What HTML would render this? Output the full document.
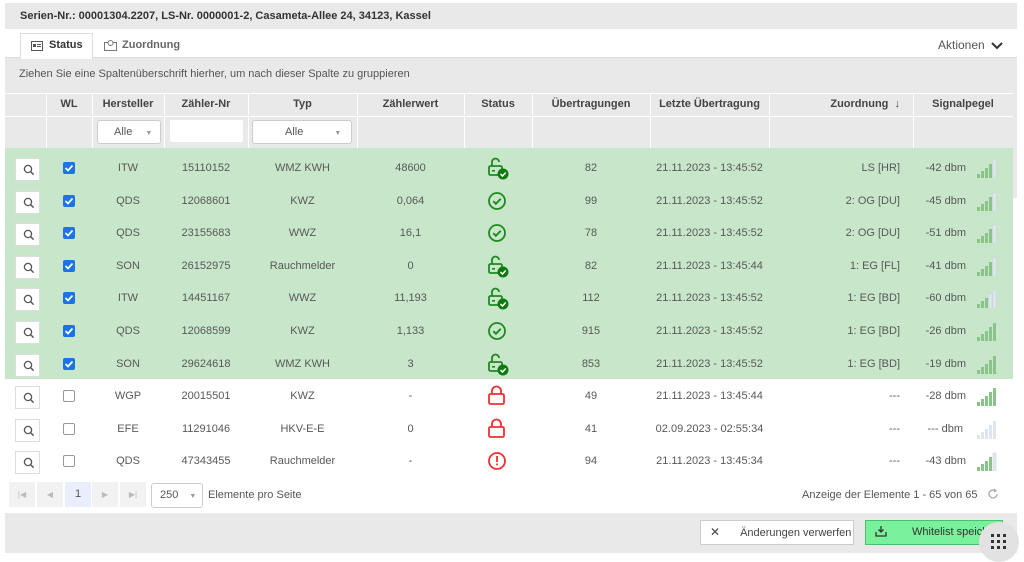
<!DOCTYPE html>
<html><head><meta charset="utf-8"><style>
*{box-sizing:border-box;margin:0;padding:0}
body{width:1024px;height:557px;background:#fff;font-family:"Liberation Sans",sans-serif;font-size:11px;color:#555;position:relative;overflow:hidden}
.a{position:absolute}
.hdr{font-weight:bold;color:#444}
.row{position:absolute;left:5px;width:1008px;height:33px}
.row .c{position:absolute;top:2px;height:33px;line-height:33px;text-align:center;white-space:nowrap;color:#585858}
.mag{position:absolute;left:10px;top:8px;width:25px;height:23px;background:#fff;border:1px solid #ddd}
.cb{position:absolute;left:58px;top:12px;width:12px;height:12px;border-radius:2px}
.on{background:#1a73e8}
.off{border:1px solid #999;background:#fff}
.ico{position:absolute;left:482px;top:7px}
.bars{position:absolute;left:972px;top:9px}
.vl{position:absolute;top:93px;height:55px;width:1px;background:#fff}
.pb{position:absolute;top:482px;width:26px;height:25px;background:#f2f2f2;color:#bbb;font-size:8px;text-align:center;line-height:25px}
</style></head><body>
<div class="a" style="left:5px;top:3px;width:1012px;height:550px;background:#e9e9e9"></div>
<div class="a hdr" style="left:20px;top:10px;font-size:11px;color:#333">Serien-Nr.: 00001304.2207, LS-Nr. 0000001-2, Casameta-Allee 24, 34123, Kassel</div>
<div class="a" style="left:5px;top:29px;width:1012px;height:29px;background:#fff;border-bottom:1px solid #ddd"></div>
<div class="a" style="left:20px;top:33px;width:73px;height:26px;background:#fff;border:1px solid #ddd;border-bottom:none"></div>
<svg class="a" style="left:31px;top:41px" width="12" height="10"><rect x="0.5" y="0.5" width="11" height="9" fill="none" stroke="#555"/><rect x="2" y="3" width="3" height="3" fill="#555"/><rect x="6" y="3" width="4" height="1" fill="#555"/><rect x="6" y="5" width="4" height="1" fill="#555"/></svg>
<div class="a hdr" style="left:49px;top:39px;font-size:11px;color:#333">Status</div>
<svg class="a" style="left:104px;top:40px" width="13" height="11"><rect x="0.5" y="2.5" width="12" height="8" fill="none" stroke="#777"/><circle cx="6.5" cy="3" r="2.5" fill="#fff" stroke="#777"/></svg>
<div class="a hdr" style="left:122px;top:39px;color:#666">Zuordnung</div>
<div class="a" style="left:938px;top:38px;font-size:12px;color:#555">Aktionen</div>
<svg class="a" style="left:991px;top:42px" width="12" height="8"><path d="M1 1l5 5 5-5" stroke="#333" stroke-width="2" fill="none"/></svg>
<div class="a" style="left:19px;top:68px;color:#555;font-size:11px">Ziehen Sie eine Spaltenüberschrift hierher, um nach dieser Spalte zu gruppieren</div>
<div class="a" style="left:5px;top:93px;width:1008px;height:1px;background:#fff"></div>
<div class="a" style="left:5px;top:116px;width:1008px;height:1px;background:#fff"></div>
<div class="vl" style="left:46px"></div><div class="vl" style="left:92px"></div><div class="vl" style="left:164px"></div><div class="vl" style="left:248px"></div><div class="vl" style="left:357px"></div><div class="vl" style="left:464px"></div><div class="vl" style="left:532px"></div><div class="vl" style="left:650px"></div><div class="vl" style="left:769px"></div><div class="vl" style="left:913px"></div>
<div class="a hdr" style="top:98px;left:46px;width:46px;text-align:center">WL</div>
<div class="a hdr" style="top:98px;left:92px;width:72px;text-align:center">Hersteller</div>
<div class="a hdr" style="top:98px;left:164px;width:84px;text-align:center">Zähler-Nr</div>
<div class="a hdr" style="top:98px;left:248px;width:109px;text-align:center">Typ</div>
<div class="a hdr" style="top:98px;left:357px;width:107px;text-align:center">Zählerwert</div>
<div class="a hdr" style="top:98px;left:464px;width:68px;text-align:center">Status</div>
<div class="a hdr" style="top:98px;left:532px;width:118px;text-align:center">Übertragungen</div>
<div class="a hdr" style="top:98px;left:650px;width:119px;text-align:center">Letzte Übertragung</div>
<div class="a hdr" style="top:98px;left:769px;width:131px;text-align:right">Zuordnung &nbsp;↓</div>
<div class="a hdr" style="top:98px;left:913px;width:100px;text-align:center">Signalpegel</div>
<div class="a" style="left:97px;top:120px;width:64px;height:24px;background:#fff;border:1px solid #ccc;border-radius:3px;line-height:22px;padding-left:16px">Alle <span style="font-size:7px;color:#999;margin-left:10px">▼</span></div>
<div class="a" style="left:170px;top:120px;width:73px;height:22px;background:#fff;border-radius:2px"></div>
<div class="a" style="left:252px;top:120px;width:100px;height:24px;background:#fff;border:1px solid #ccc;border-radius:3px;line-height:22px;padding-left:32px">Alle <span style="font-size:7px;color:#999;margin-left:28px">▼</span></div>
<div class="a" style="left:5px;top:148px;width:1008px;height:325px;background:#fff"></div>
<div class="a" style="left:5px;top:148px;width:1008px;height:231px;background:#c8e6c9"></div>
<div class="a" style="left:1013px;top:148px;width:4px;height:50px;background:#e9e9e9"></div>
<div class="a" style="left:1013px;top:198px;width:4px;height:315px;background:#fff"></div>
<div class="a" style="left:5px;top:473px;width:1012px;height:40px;background:#fff"></div>

<svg width="0" height="0" style="position:absolute"><defs>
<g id="mg"><circle cx="5" cy="5" r="3.6" fill="none" stroke="#555" stroke-width="1.3"/><path d="M7.6 7.6l3 3" stroke="#555" stroke-width="1.5"/></g>
<g id="ulk"><path d="M5 9V5a3.5 3.5 0 0 1 7 0" fill="none" stroke="#1e8a1e" stroke-width="1.8"/><rect x="2" y="9" width="13" height="9" rx="1.5" fill="none" stroke="#1e8a1e" stroke-width="1.8"/><rect x="5" y="13" width="3" height="1.6" fill="#1e8a1e"/><circle cx="16" cy="17" r="5.5" fill="#0f7a0f"/><path d="M13.5 17l2 2 3.2-3.5" stroke="#fff" stroke-width="1.5" fill="none"/></g>
<g id="ok"><circle cx="10" cy="11" r="8" fill="none" stroke="#1e8a1e" stroke-width="1.8"/><path d="M6.3 11.2l2.6 2.6 4.8-5" stroke="#1e8a1e" stroke-width="1.9" fill="none"/></g>
<g id="lk"><path d="M5 9V6a4.5 4.5 0 0 1 9 0v3" fill="none" stroke="#f03030" stroke-width="1.8"/><rect x="2" y="9" width="15" height="10" rx="1.5" fill="none" stroke="#f03030" stroke-width="1.8"/></g>
<g id="ex"><circle cx="10" cy="11" r="8" fill="none" stroke="#f03030" stroke-width="1.8"/><rect x="9.1" y="6" width="1.8" height="6" fill="#f03030"/><rect x="9.1" y="13.5" width="1.8" height="1.8" fill="#f03030"/></g>
</defs></svg>

<div class="row" style="top:150px">
<div class="mag"><svg style="margin:5px 0 0 7px" width="12" height="12"><use href="#mg"/></svg></div><div class="cb on"><svg width="12" height="12"><path d="M2.5 6l2.5 2.5 4.5-5" stroke="#fff" stroke-width="1.8" fill="none"/></svg></div>
<div class="c" style="left:87px;width:72px">ITW</div><div class="c" style="left:159px;width:84px">15110152</div><div class="c" style="left:243px;width:109px">WMZ KWH</div><div class="c" style="left:352px;width:107px">48600</div>
<svg class="ico" width="24" height="24"><use href="#ulk"/></svg>
<div class="c" style="left:527px;width:118px">82</div><div class="c" style="left:645px;width:119px">21.11.2023 - 13:45:52</div><div class="c" style="left:764px;width:131px;text-align:right">LS [HR]</div><div class="c" style="left:908px;width:53px;text-align:right">-42 dbm</div>
<svg class="bars" width="20" height="19"><rect x="0" y="15" width="3" height="4" fill="#8bc48b"/><rect x="4" y="12" width="3" height="7" fill="#8bc48b"/><rect x="8" y="9" width="3" height="10" fill="#8bc48b"/><rect x="12" y="5" width="3" height="14" fill="#8bc48b"/><rect x="16" y="1" width="3" height="18" fill="#e3e8f0" stroke="#c9d2dd" stroke-width=".6"/></svg></div>

<div class="row" style="top:182.6px">
<div class="mag"><svg style="margin:5px 0 0 7px" width="12" height="12"><use href="#mg"/></svg></div><div class="cb on"><svg width="12" height="12"><path d="M2.5 6l2.5 2.5 4.5-5" stroke="#fff" stroke-width="1.8" fill="none"/></svg></div>
<div class="c" style="left:87px;width:72px">QDS</div><div class="c" style="left:159px;width:84px">12068601</div><div class="c" style="left:243px;width:109px">KWZ</div><div class="c" style="left:352px;width:107px">0,064</div>
<svg class="ico" width="24" height="24"><use href="#ok"/></svg>
<div class="c" style="left:527px;width:118px">99</div><div class="c" style="left:645px;width:119px">21.11.2023 - 13:45:52</div><div class="c" style="left:764px;width:131px;text-align:right">2: OG [DU]</div><div class="c" style="left:908px;width:53px;text-align:right">-45 dbm</div>
<svg class="bars" width="20" height="19"><rect x="0" y="15" width="3" height="4" fill="#8bc48b"/><rect x="4" y="12" width="3" height="7" fill="#8bc48b"/><rect x="8" y="9" width="3" height="10" fill="#8bc48b"/><rect x="12" y="5" width="3" height="14" fill="#8bc48b"/><rect x="16" y="1" width="3" height="18" fill="#e3e8f0" stroke="#c9d2dd" stroke-width=".6"/></svg></div>

<div class="row" style="top:215.2px">
<div class="mag"><svg style="margin:5px 0 0 7px" width="12" height="12"><use href="#mg"/></svg></div><div class="cb on"><svg width="12" height="12"><path d="M2.5 6l2.5 2.5 4.5-5" stroke="#fff" stroke-width="1.8" fill="none"/></svg></div>
<div class="c" style="left:87px;width:72px">QDS</div><div class="c" style="left:159px;width:84px">23155683</div><div class="c" style="left:243px;width:109px">WWZ</div><div class="c" style="left:352px;width:107px">16,1</div>
<svg class="ico" width="24" height="24"><use href="#ok"/></svg>
<div class="c" style="left:527px;width:118px">78</div><div class="c" style="left:645px;width:119px">21.11.2023 - 13:45:52</div><div class="c" style="left:764px;width:131px;text-align:right">2: OG [DU]</div><div class="c" style="left:908px;width:53px;text-align:right">-51 dbm</div>
<svg class="bars" width="20" height="19"><rect x="0" y="15" width="3" height="4" fill="#8bc48b"/><rect x="4" y="12" width="3" height="7" fill="#8bc48b"/><rect x="8" y="9" width="3" height="10" fill="#8bc48b"/><rect x="12" y="5" width="3" height="14" fill="#8bc48b"/><rect x="16" y="1" width="3" height="18" fill="#e3e8f0" stroke="#c9d2dd" stroke-width=".6"/></svg></div>

<div class="row" style="top:247.8px">
<div class="mag"><svg style="margin:5px 0 0 7px" width="12" height="12"><use href="#mg"/></svg></div><div class="cb on"><svg width="12" height="12"><path d="M2.5 6l2.5 2.5 4.5-5" stroke="#fff" stroke-width="1.8" fill="none"/></svg></div>
<div class="c" style="left:87px;width:72px">SON</div><div class="c" style="left:159px;width:84px">26152975</div><div class="c" style="left:243px;width:109px">Rauchmelder</div><div class="c" style="left:352px;width:107px">0</div>
<svg class="ico" width="24" height="24"><use href="#ulk"/></svg>
<div class="c" style="left:527px;width:118px">82</div><div class="c" style="left:645px;width:119px">21.11.2023 - 13:45:44</div><div class="c" style="left:764px;width:131px;text-align:right">1: EG [FL]</div><div class="c" style="left:908px;width:53px;text-align:right">-41 dbm</div>
<svg class="bars" width="20" height="19"><rect x="0" y="15" width="3" height="4" fill="#8bc48b"/><rect x="4" y="12" width="3" height="7" fill="#8bc48b"/><rect x="8" y="9" width="3" height="10" fill="#8bc48b"/><rect x="12" y="5" width="3" height="14" fill="#8bc48b"/><rect x="16" y="1" width="3" height="18" fill="#e3e8f0" stroke="#c9d2dd" stroke-width=".6"/></svg></div>

<div class="row" style="top:280.4px">
<div class="mag"><svg style="margin:5px 0 0 7px" width="12" height="12"><use href="#mg"/></svg></div><div class="cb on"><svg width="12" height="12"><path d="M2.5 6l2.5 2.5 4.5-5" stroke="#fff" stroke-width="1.8" fill="none"/></svg></div>
<div class="c" style="left:87px;width:72px">ITW</div><div class="c" style="left:159px;width:84px">14451167</div><div class="c" style="left:243px;width:109px">WWZ</div><div class="c" style="left:352px;width:107px">11,193</div>
<svg class="ico" width="24" height="24"><use href="#ulk"/></svg>
<div class="c" style="left:527px;width:118px">112</div><div class="c" style="left:645px;width:119px">21.11.2023 - 13:45:52</div><div class="c" style="left:764px;width:131px;text-align:right">1: EG [BD]</div><div class="c" style="left:908px;width:53px;text-align:right">-60 dbm</div>
<svg class="bars" width="20" height="19"><rect x="0" y="15" width="3" height="4" fill="#8bc48b"/><rect x="4" y="12" width="3" height="7" fill="#8bc48b"/><rect x="8" y="9" width="3" height="10" fill="#8bc48b"/><rect x="12" y="5" width="3" height="14" fill="#e3e8f0" stroke="#c9d2dd" stroke-width=".6"/><rect x="16" y="1" width="3" height="18" fill="#e3e8f0" stroke="#c9d2dd" stroke-width=".6"/></svg></div>

<div class="row" style="top:313px">
<div class="mag"><svg style="margin:5px 0 0 7px" width="12" height="12"><use href="#mg"/></svg></div><div class="cb on"><svg width="12" height="12"><path d="M2.5 6l2.5 2.5 4.5-5" stroke="#fff" stroke-width="1.8" fill="none"/></svg></div>
<div class="c" style="left:87px;width:72px">QDS</div><div class="c" style="left:159px;width:84px">12068599</div><div class="c" style="left:243px;width:109px">KWZ</div><div class="c" style="left:352px;width:107px">1,133</div>
<svg class="ico" width="24" height="24"><use href="#ok"/></svg>
<div class="c" style="left:527px;width:118px">915</div><div class="c" style="left:645px;width:119px">21.11.2023 - 13:45:52</div><div class="c" style="left:764px;width:131px;text-align:right">1: EG [BD]</div><div class="c" style="left:908px;width:53px;text-align:right">-26 dbm</div>
<svg class="bars" width="20" height="19"><rect x="0" y="15" width="3" height="4" fill="#8bc48b"/><rect x="4" y="12" width="3" height="7" fill="#8bc48b"/><rect x="8" y="9" width="3" height="10" fill="#8bc48b"/><rect x="12" y="5" width="3" height="14" fill="#8bc48b"/><rect x="16" y="1" width="3" height="18" fill="#8bc48b"/></svg></div>

<div class="row" style="top:345.6px">
<div class="mag"><svg style="margin:5px 0 0 7px" width="12" height="12"><use href="#mg"/></svg></div><div class="cb on"><svg width="12" height="12"><path d="M2.5 6l2.5 2.5 4.5-5" stroke="#fff" stroke-width="1.8" fill="none"/></svg></div>
<div class="c" style="left:87px;width:72px">SON</div><div class="c" style="left:159px;width:84px">29624618</div><div class="c" style="left:243px;width:109px">WMZ KWH</div><div class="c" style="left:352px;width:107px">3</div>
<svg class="ico" width="24" height="24"><use href="#ulk"/></svg>
<div class="c" style="left:527px;width:118px">853</div><div class="c" style="left:645px;width:119px">21.11.2023 - 13:45:52</div><div class="c" style="left:764px;width:131px;text-align:right">1: EG [BD]</div><div class="c" style="left:908px;width:53px;text-align:right">-19 dbm</div>
<svg class="bars" width="20" height="19"><rect x="0" y="15" width="3" height="4" fill="#8bc48b"/><rect x="4" y="12" width="3" height="7" fill="#8bc48b"/><rect x="8" y="9" width="3" height="10" fill="#8bc48b"/><rect x="12" y="5" width="3" height="14" fill="#8bc48b"/><rect x="16" y="1" width="3" height="18" fill="#8bc48b"/></svg></div>

<div class="row" style="top:378.2px">
<div class="mag"><svg style="margin:5px 0 0 7px" width="12" height="12"><use href="#mg"/></svg></div><div class="cb off"></div>
<div class="c" style="left:87px;width:72px">WGP</div><div class="c" style="left:159px;width:84px">20015501</div><div class="c" style="left:243px;width:109px">KWZ</div><div class="c" style="left:352px;width:107px">-</div>
<svg class="ico" width="24" height="24"><use href="#lk"/></svg>
<div class="c" style="left:527px;width:118px">49</div><div class="c" style="left:645px;width:119px">21.11.2023 - 13:45:44</div><div class="c" style="left:764px;width:131px;text-align:right">---</div><div class="c" style="left:908px;width:53px;text-align:right">-28 dbm</div>
<svg class="bars" width="20" height="19"><rect x="0" y="15" width="3" height="4" fill="#8bc48b"/><rect x="4" y="12" width="3" height="7" fill="#8bc48b"/><rect x="8" y="9" width="3" height="10" fill="#8bc48b"/><rect x="12" y="5" width="3" height="14" fill="#8bc48b"/><rect x="16" y="1" width="3" height="18" fill="#8bc48b"/></svg></div>

<div class="row" style="top:410.8px">
<div class="mag"><svg style="margin:5px 0 0 7px" width="12" height="12"><use href="#mg"/></svg></div><div class="cb off"></div>
<div class="c" style="left:87px;width:72px">EFE</div><div class="c" style="left:159px;width:84px">11291046</div><div class="c" style="left:243px;width:109px">HKV-E-E</div><div class="c" style="left:352px;width:107px">0</div>
<svg class="ico" width="24" height="24"><use href="#lk"/></svg>
<div class="c" style="left:527px;width:118px">41</div><div class="c" style="left:645px;width:119px">02.09.2023 - 02:55:34</div><div class="c" style="left:764px;width:131px;text-align:right">---</div><div class="c" style="left:908px;width:50px;text-align:right">--- dbm</div>
<svg class="bars" width="20" height="19"><rect x="0" y="15" width="3" height="4" fill="#dfe5ee"/><rect x="4" y="12" width="3" height="7" fill="#dfe5ee"/><rect x="8" y="9" width="3" height="10" fill="#dfe5ee"/><rect x="12" y="5" width="3" height="14" fill="#dfe5ee"/><rect x="16" y="1" width="3" height="18" fill="#dfe5ee"/></svg></div>

<div class="row" style="top:443.4px">
<div class="mag"><svg style="margin:5px 0 0 7px" width="12" height="12"><use href="#mg"/></svg></div><div class="cb off"></div>
<div class="c" style="left:87px;width:72px">QDS</div><div class="c" style="left:159px;width:84px">47343455</div><div class="c" style="left:243px;width:109px">Rauchmelder</div><div class="c" style="left:352px;width:107px">-</div>
<svg class="ico" width="24" height="24"><use href="#ex"/></svg>
<div class="c" style="left:527px;width:118px">94</div><div class="c" style="left:645px;width:119px">21.11.2023 - 13:45:34</div><div class="c" style="left:764px;width:131px;text-align:right">---</div><div class="c" style="left:908px;width:53px;text-align:right">-43 dbm</div>
<svg class="bars" width="20" height="19"><rect x="0" y="15" width="3" height="4" fill="#8bc48b"/><rect x="4" y="12" width="3" height="7" fill="#8bc48b"/><rect x="8" y="9" width="3" height="10" fill="#8bc48b"/><rect x="12" y="5" width="3" height="14" fill="#8bc48b"/><rect x="16" y="1" width="3" height="18" fill="#e3e8f0" stroke="#c9d2dd" stroke-width=".6"/></svg></div>

<div class="pb" style="left:9px">|◀</div>
<div class="pb" style="left:37px">◀</div>
<div class="pb" style="left:65px;background:#e8eefb;color:#555;font-size:11px">1</div>
<div class="pb" style="left:92px">▶</div>
<div class="pb" style="left:120px">▶|</div>
<div class="a" style="left:151px;top:483px;width:52px;height:25px;border:1px solid #ccc;border-radius:3px;line-height:23px;padding-left:8px;background:#fff">250 <span style="font-size:7px;color:#999;margin-left:8px">▼</span></div>
<div class="a" style="left:208px;top:489px">Elemente pro Seite</div>
<div class="a" style="left:802px;top:489px">Anzeige der Elemente 1 - 65 von 65</div>
<svg class="a" style="left:987px;top:488px" width="12" height="12"><path d="M10 6a4 4 0 1 1-2-3.5" fill="none" stroke="#aaa" stroke-width="1.3"/><path d="M7 1l2 1.8-2.2 1" fill="none" stroke="#aaa" stroke-width="1.2"/></svg>

<div class="a" style="left:700px;top:520px;width:154px;height:25px;background:#fff;border:1px solid #ccc;line-height:23px;color:#444"><span style="margin-left:9px;font-size:12px">✕</span><span style="margin-left:20px">Änderungen verwerfen</span></div>
<div class="a" style="left:865px;top:520px;width:138px;height:25px;background:#79f09a;border:1px solid #4cbf6c;line-height:23px;color:#333;white-space:nowrap;overflow:hidden"><svg style="margin:0 0 -2px 9px" width="12" height="11"><path d="M6 0v6M3.5 3.5L6 6l2.5-2.5M1 6v4h10V6" stroke="#333" stroke-width="1.3" fill="none"/></svg><span style="margin-left:25px">Whitelist speichern</span></div>
<div class="a" style="left:979px;top:522px;width:40px;height:40px;border-radius:50%;background:#e2e2e2"></div>
<svg class="a" style="left:990px;top:533px" width="18" height="18"><g fill="#333"><rect x="1" y="1" width="3" height="3"/><rect x="7" y="1" width="3" height="3"/><rect x="13" y="1" width="3" height="3"/><rect x="1" y="7" width="3" height="3"/><rect x="7" y="7" width="3" height="3"/><rect x="13" y="7" width="3" height="3"/><rect x="1" y="13" width="3" height="3"/><rect x="7" y="13" width="3" height="3"/><rect x="13" y="13" width="3" height="3"/></g></svg>
</body></html>
